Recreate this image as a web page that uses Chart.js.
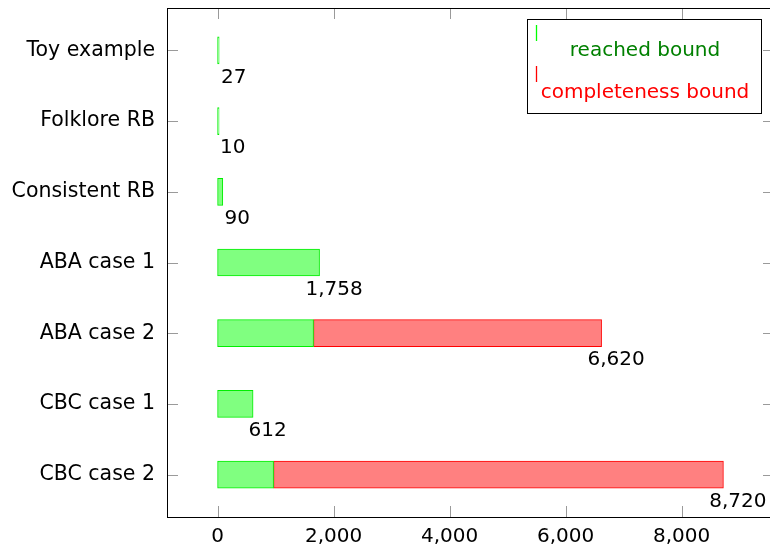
<!DOCTYPE html>
<html>
<head>
<meta charset="utf-8">
<script src="https://cdn.jsdelivr.net/npm/chart.js@4/dist/chart.umd.min.js"></script>
<style>
  html, body { margin: 0; padding: 0; background: #fff; }
  #wrap { width: 770px; height: 547px; overflow: hidden; position: relative; }
  #wrap canvas { position: absolute; left: 0; top: 0; }
</style>
</head>
<body>
<div id="wrap"><canvas id="chart" width="790" height="547"></canvas></div>
<script>
// ==================
// Data
// ==================
const categories = ["Toy example", "Folklore RB", "Consistent RB", "ABA case 1", "ABA case 2", "CBC case 1", "CBC case 2"];
const reachedBound = [27, 10, 90, 1758, 1654, 612, 965];
const completenessBound = [27, 10, 90, 1758, 6620, 612, 8720];
const xTicks = [0, 2000, 4000, 6000, 8000];

const FONT = "'DejaVu Sans', sans-serif";
const fmt = v => v.toLocaleString("en-US");

// extra part above the reached bound (stacked)
const extraPart = completenessBound.map((v, i) => v - reachedBound[i]);

// inward ticks, frame, value labels and legend
const decorations = {
  id: "decorations",
  afterDatasetsDraw(chart) {
    const ctx = chart.ctx;
    const a = chart.chartArea;
    const xs = chart.scales.x, ys = chart.scales.y;
    ctx.save();
    ctx.strokeStyle = "#9a9a9a";
    ctx.lineWidth = 1;
    ctx.beginPath();
    xTicks.forEach(t => {
      const x = Math.round(xs.getPixelForValue(t)) + 0.5;
      ctx.moveTo(x, a.bottom); ctx.lineTo(x, a.bottom - 11);
      ctx.moveTo(x, a.top); ctx.lineTo(x, a.top + 11);
    });
    categories.forEach((c, i) => {
      const y = Math.round(ys.getPixelForValue(i)) + 0.5;
      ctx.moveTo(a.left, y); ctx.lineTo(a.left + 11, y);
      ctx.moveTo(a.right, y); ctx.lineTo(a.right - 11, y);
    });
    ctx.stroke();

    ctx.strokeStyle = "#000";
    ctx.strokeRect(Math.round(a.left) + 0.5, Math.round(a.top) + 0.5,
                   Math.round(a.right - a.left), Math.round(a.bottom - a.top));

    // totals
    ctx.fillStyle = "#000";
    ctx.font = "20px " + FONT;
    ctx.textAlign = "center";
    ctx.textBaseline = "middle";
    completenessBound.forEach((v, i) => {
      const x = xs.getPixelForValue(v) + 14.5;
      const y = ys.getPixelForValue(i) + 27;
      ctx.fillText(fmt(v), x, y);
    });

    // legend
    const lx = 527.5, ly = 19.5, lw = 234, lh = 94;
    ctx.fillStyle = "#fff";
    ctx.fillRect(lx, ly, lw, lh);
    ctx.strokeStyle = "#000";
    ctx.lineWidth = 1;
    ctx.strokeRect(lx, ly, lw, lh);
    ctx.lineWidth = 1.3;
    ctx.strokeStyle = "#00ff00";
    ctx.beginPath(); ctx.moveTo(536.5, 25); ctx.lineTo(536.5, 41); ctx.stroke();
    ctx.strokeStyle = "#ff0000";
    ctx.beginPath(); ctx.moveTo(536.5, 66); ctx.lineTo(536.5, 82); ctx.stroke();
    ctx.fillStyle = "#008000";
    ctx.fillText("reached bound", 645, 51);
    ctx.fillStyle = "#ff0000";
    ctx.fillText("completeness bound", 645, 93);
    ctx.restore();
  }
};

const ctx = document.getElementById("chart").getContext("2d");
new Chart(ctx, {
  type: "bar",
  data: {
    datasets: [
      {
        label: "reached bound",
        data: reachedBound.map((v, i) => ({ x: v, y: i })),
        backgroundColor: "rgb(128,255,128)",
        borderColor: "#00ee00",
        borderWidth: 1,
        borderSkipped: false,
        barThickness: 27,
        minBarLength: 1.5
      },
      {
        label: "completeness bound",
        data: extraPart.map((v, i) => ({ x: v, y: i })),
        backgroundColor: "rgb(255,128,128)",
        borderColor: "#ff0000",
        borderWidth: 1,
        borderSkipped: false,
        barThickness: 27
      }
    ]
  },
  options: {
    indexAxis: "y",
    responsive: false,
    animation: false,
    layout: { padding: { top: 8, right: 16, left: 0, bottom: 0 } },
    plugins: { legend: { display: false }, tooltip: { enabled: false } },
    scales: {
      x: {
        type: "linear",
        stacked: true,
        min: -872,
        max: 9592,
        offset: false,
        grid: { display: false },
        border: { display: false },
        afterBuildTicks: s => { s.ticks = xTicks.map(v => ({ value: v })); },
        afterFit: s => { s.height = 30; s.paddingLeft = 0; s.paddingRight = 0; },
        ticks: {
          color: "#000",
          font: { family: FONT, size: 20 },
          padding: 0,
          maxRotation: 0,
          callback: v => fmt(v)
        }
      },
      y: {
        type: "linear",
        stacked: true,
        reverse: true,
        offset: false,
        min: -0.6,
        max: 6.6,
        grid: { display: false },
        border: { display: false },
        afterBuildTicks: s => { s.ticks = categories.map((c, i) => ({ value: i })); },
        afterFit: s => { s.width = 167; s.paddingTop = 0; s.paddingBottom = 0; },
        ticks: {
          color: "#000",
          font: { family: FONT, size: 20.5 },
          padding: 4,
          callback: v => categories[v]
        }
      }
    }
  },
  plugins: [decorations]
});
</script>
</body>
</html>
